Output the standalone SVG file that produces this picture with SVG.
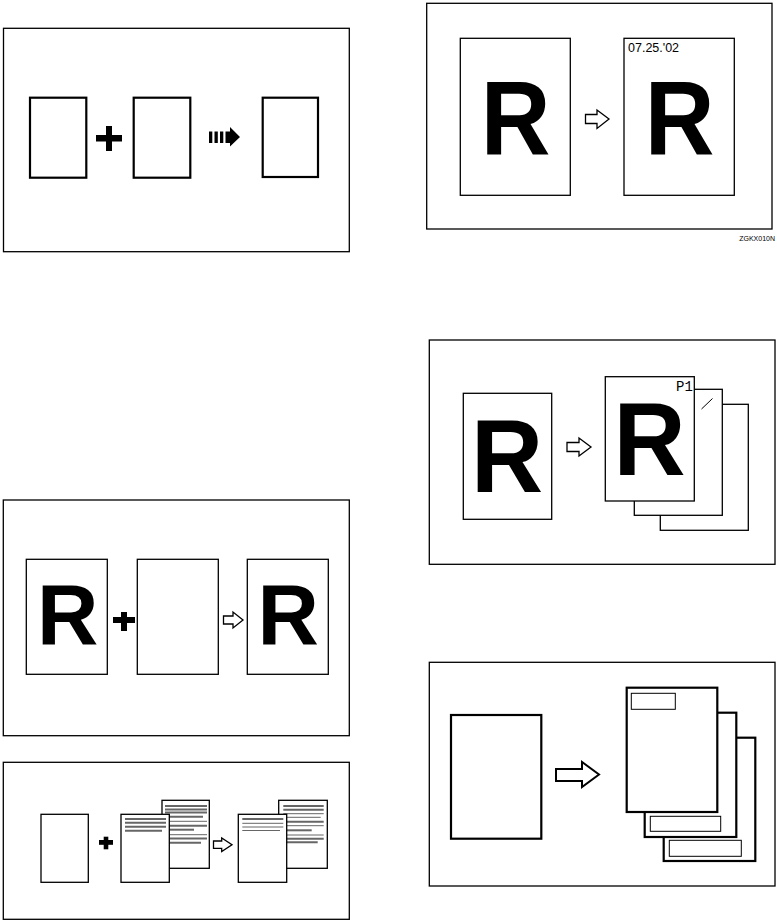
<svg xmlns="http://www.w3.org/2000/svg" width="777" height="921" viewBox="0 0 777 921">
<style>
.frame{fill:none;stroke:#000;stroke-width:1.3}
.pg{fill:#fff;stroke:#000;stroke-width:1.3}
.pgb{fill:#fff;stroke:#000;stroke-width:2.2}
.box{fill:none;stroke:#000;stroke-width:1}
.R{font-family:"Liberation Sans",Arial,sans-serif;font-weight:bold;text-anchor:middle;fill:#000}
.txt{font-family:"Liberation Sans",Arial,sans-serif;fill:#000}
.harrow{fill:#fff;stroke:#000;stroke-width:1.3;stroke-linejoin:miter}
.ln{stroke:#666;stroke-width:2}
.lt{stroke:#666;stroke-width:1}
</style>
<rect width="777" height="921" fill="#fff"/>

<!-- Panel 1 -->
<g id="panel1">
  <rect class="frame" x="3.5" y="28.3" width="345.8" height="223.4"/>
  <g id="p1-page1"><rect class="pgb" x="30" y="97.7" width="56.3" height="80"/></g>
  <g id="p1-plus"><rect x="96" y="135" width="26" height="6.5"/><rect x="106" y="126" width="6" height="25"/></g>
  <g id="p1-page2"><rect class="pgb" x="133.7" y="97.7" width="56.6" height="80"/></g>
  <g id="p1-page3"><rect class="pgb" x="262.7" y="97.7" width="55.3" height="79.3"/></g>
</g>

<!-- Panel 2 -->
<g id="panel2">
  <rect class="frame" x="426.7" y="3.3" width="345.3" height="225.7"/>
  <g id="p2-page1">
    <rect class="pg" x="460.3" y="38.3" width="110" height="157"/>
    <text class="R" font-size="105" transform="translate(515.5,155) scale(0.92,1)">R</text>
  </g>
  <g id="p2-page2">
    <rect class="pg" x="624" y="38.3" width="110.3" height="157"/>
    <text class="txt" x="628" y="52" font-size="12.5">07.25.'02</text>
    <text class="R" font-size="105" transform="translate(679.5,155) scale(0.92,1)">R</text>
  </g>
  <text class="txt" x="775" y="240.5" font-size="7" text-anchor="end">ZGKX010N</text>
</g>

<!-- Panel 3 -->
<g id="panel3">
  <rect class="frame" x="429.3" y="340" width="345.7" height="224.3"/>
  <g id="p3-page1">
    <rect class="pg" x="463.3" y="393.3" width="88.4" height="126"/>
    <text class="R" font-size="103" transform="translate(507,492) scale(0.97,1)">R</text>
  </g>
  <g id="p3-page4"><rect class="pg" x="660.3" y="404.3" width="88" height="126"/></g>
  <g id="p3-page3">
    <rect class="pg" x="634.3" y="389.3" width="88" height="126"/>
    <line x1="701.5" y1="409" x2="712.5" y2="398.5" stroke="#000" stroke-width="1"/>
  </g>
  <g id="p3-page2">
    <rect class="pg" x="605.3" y="376.7" width="89" height="124.3"/>
    <text class="txt" x="676" y="391" font-size="14" style="font-family:'Liberation Mono','Courier New',monospace">P1</text>
    <text class="R" font-size="103" transform="translate(649.5,475) scale(0.97,1)">R</text>
  </g>
</g>

<!-- Panel 4 -->
<g id="panel4">
  <rect class="frame" x="3.3" y="500" width="346" height="235.7"/>
  <g id="p4-page1">
    <rect class="pg" x="26.3" y="559.3" width="81" height="115"/>
    <text class="R" font-size="85" x="67.8" y="644">R</text>
  </g>
  <g id="p4-plus"><rect x="113" y="617" width="22" height="6"/><rect x="121" y="612" width="6" height="19"/></g>
  <g id="p4-page2"><rect class="pg" x="137.3" y="559.3" width="81" height="115"/></g>
  <g id="p4-page3">
    <rect class="pg" x="247.3" y="559.3" width="81" height="115"/>
    <text class="R" font-size="85" x="288.3" y="644">R</text>
  </g>
</g>

<!-- Panel 5 -->
<g id="panel5">
  <rect class="frame" x="3.3" y="762.3" width="346" height="157"/>
  <g id="p5-blank"><rect class="pg" x="41" y="814.3" width="47.3" height="68"/></g>
  <g id="p5-plus"><rect x="99" y="840" width="14" height="4.8"/><rect x="103.7" y="836.7" width="4.6" height="12.6"/></g>
  <g id="p5-text-back">
    <rect class="pg" x="162" y="800.3" width="47.3" height="68"/>
    <line class="ln" x1="165" y1="806" x2="207" y2="806"/>
    <line class="ln" x1="165" y1="809.5" x2="207" y2="809.5"/>
    <line class="ln" x1="165" y1="812.5" x2="207" y2="812.5"/>
    <line class="ln" x1="165" y1="816.7" x2="203" y2="816.7"/>
    <line class="lt" x1="165" y1="821.3" x2="207" y2="821.3"/>
    <line class="ln" x1="165" y1="825.7" x2="207" y2="825.7"/>
    <line class="ln" x1="165" y1="829.7" x2="194" y2="829.7"/>
    <line class="lt" x1="165" y1="834.7" x2="207" y2="834.7"/>
    <line class="ln" x1="165" y1="838.5" x2="207" y2="838.5"/>
    <line class="ln" x1="165" y1="842.7" x2="201" y2="842.7"/>
  </g>
  <g id="p5-text-front">
    <rect class="pg" x="121" y="814.3" width="48.3" height="68"/>
    <line class="ln" x1="125" y1="819" x2="166" y2="819"/>
    <line class="ln" x1="125" y1="822.7" x2="166" y2="822.7"/>
    <line class="ln" x1="125" y1="826.7" x2="166" y2="826.7"/>
    <line class="ln" x1="125" y1="830.7" x2="162" y2="830.7"/>
  </g>
  <g id="p5-out-back">
    <rect class="pg" x="278.7" y="800.3" width="48.6" height="68"/>
    <line class="ln" x1="283.3" y1="806" x2="323.7" y2="806"/>
    <line class="ln" x1="283.3" y1="809.7" x2="323.7" y2="809.7"/>
    <line class="lt" x1="283.3" y1="813.7" x2="323.7" y2="813.7"/>
    <line class="lt" x1="283.3" y1="817.3" x2="320.7" y2="817.3"/>
    <line class="ln" x1="283.3" y1="821.7" x2="323.7" y2="821.7"/>
    <line class="lt" x1="283.3" y1="825.7" x2="323.7" y2="825.7"/>
    <line class="ln" x1="283.3" y1="830.3" x2="311.7" y2="830.3"/>
    <line class="lt" x1="283.3" y1="835" x2="323.7" y2="835"/>
    <line class="ln" x1="283.3" y1="838.7" x2="323.7" y2="838.7"/>
    <line class="ln" x1="283.3" y1="842.3" x2="317.7" y2="842.3"/>
  </g>
  <g id="p5-out-front">
    <rect class="pg" x="238.3" y="814.3" width="48.4" height="68"/>
    <line class="ln" x1="242.3" y1="819" x2="283.3" y2="819"/>
    <line class="lt" x1="242.3" y1="823.3" x2="283.3" y2="823.3"/>
    <line class="lt" x1="242.3" y1="827" x2="283.3" y2="827"/>
    <line class="lt" x1="242.3" y1="830.5" x2="280" y2="830.5"/>
  </g>
</g>

<!-- Panel 6 -->
<g id="panel6">
  <rect class="frame" x="429.3" y="662.3" width="345.7" height="223.7"/>
  <g id="p6-page1"><rect class="pgb" x="451" y="715" width="90.3" height="123.7"/></g>
  <g id="p6-out3">
    <rect class="pgb" x="663.7" y="737.7" width="91.6" height="123.3"/>
    <rect class="box" x="669.3" y="840.3" width="72" height="16"/>
  </g>
  <g id="p6-out2">
    <rect class="pgb" x="644.7" y="712.7" width="91.6" height="124.3"/>
    <rect class="box" x="650.3" y="816.3" width="70.4" height="15"/>
  </g>
  <g id="p6-out1">
    <rect class="pgb" x="626.7" y="687.7" width="90.6" height="124.3"/>
    <rect class="box" x="631.3" y="693.3" width="44" height="16"/>
  </g>
</g>

<!-- Connectors (arrows) -->
<g id="connectors">
  <g id="arrow1">
    <rect x="209" y="131.5" width="3.3" height="11.5"/>
    <rect x="214.5" y="131.5" width="3.3" height="11.5"/>
    <rect x="220" y="131.5" width="3.3" height="11.5"/>
    <path d="M225.5,131.5 H230 V127 L240,137 L230,146.5 V143 H225.5 Z"/>
  </g>
  <path id="arrow2" class="harrow" d="M585.5,114.5 H597 V110 L609,119 L597,128.5 V123.5 H585.5 Z"/>
  <path id="arrow3" class="harrow" d="M567,442.5 H579 V438 L591,447 L579,456 V451.5 H567 Z"/>
  <path id="arrow4" class="harrow" d="M223.5,616 H233 V612 L243,620 L233,628 V624 H223.5 Z"/>
  <path id="arrow5" class="harrow" d="M213.5,841 H221.7 V838 L232,844.7 L221.7,851.5 V848.3 H213.5 Z"/>
  <path id="arrow6" class="harrow" style="stroke-width:2" d="M556,769 H582 V762 L599,774.5 L582,787 V781 H556 Z"/>
</g>
</svg>
